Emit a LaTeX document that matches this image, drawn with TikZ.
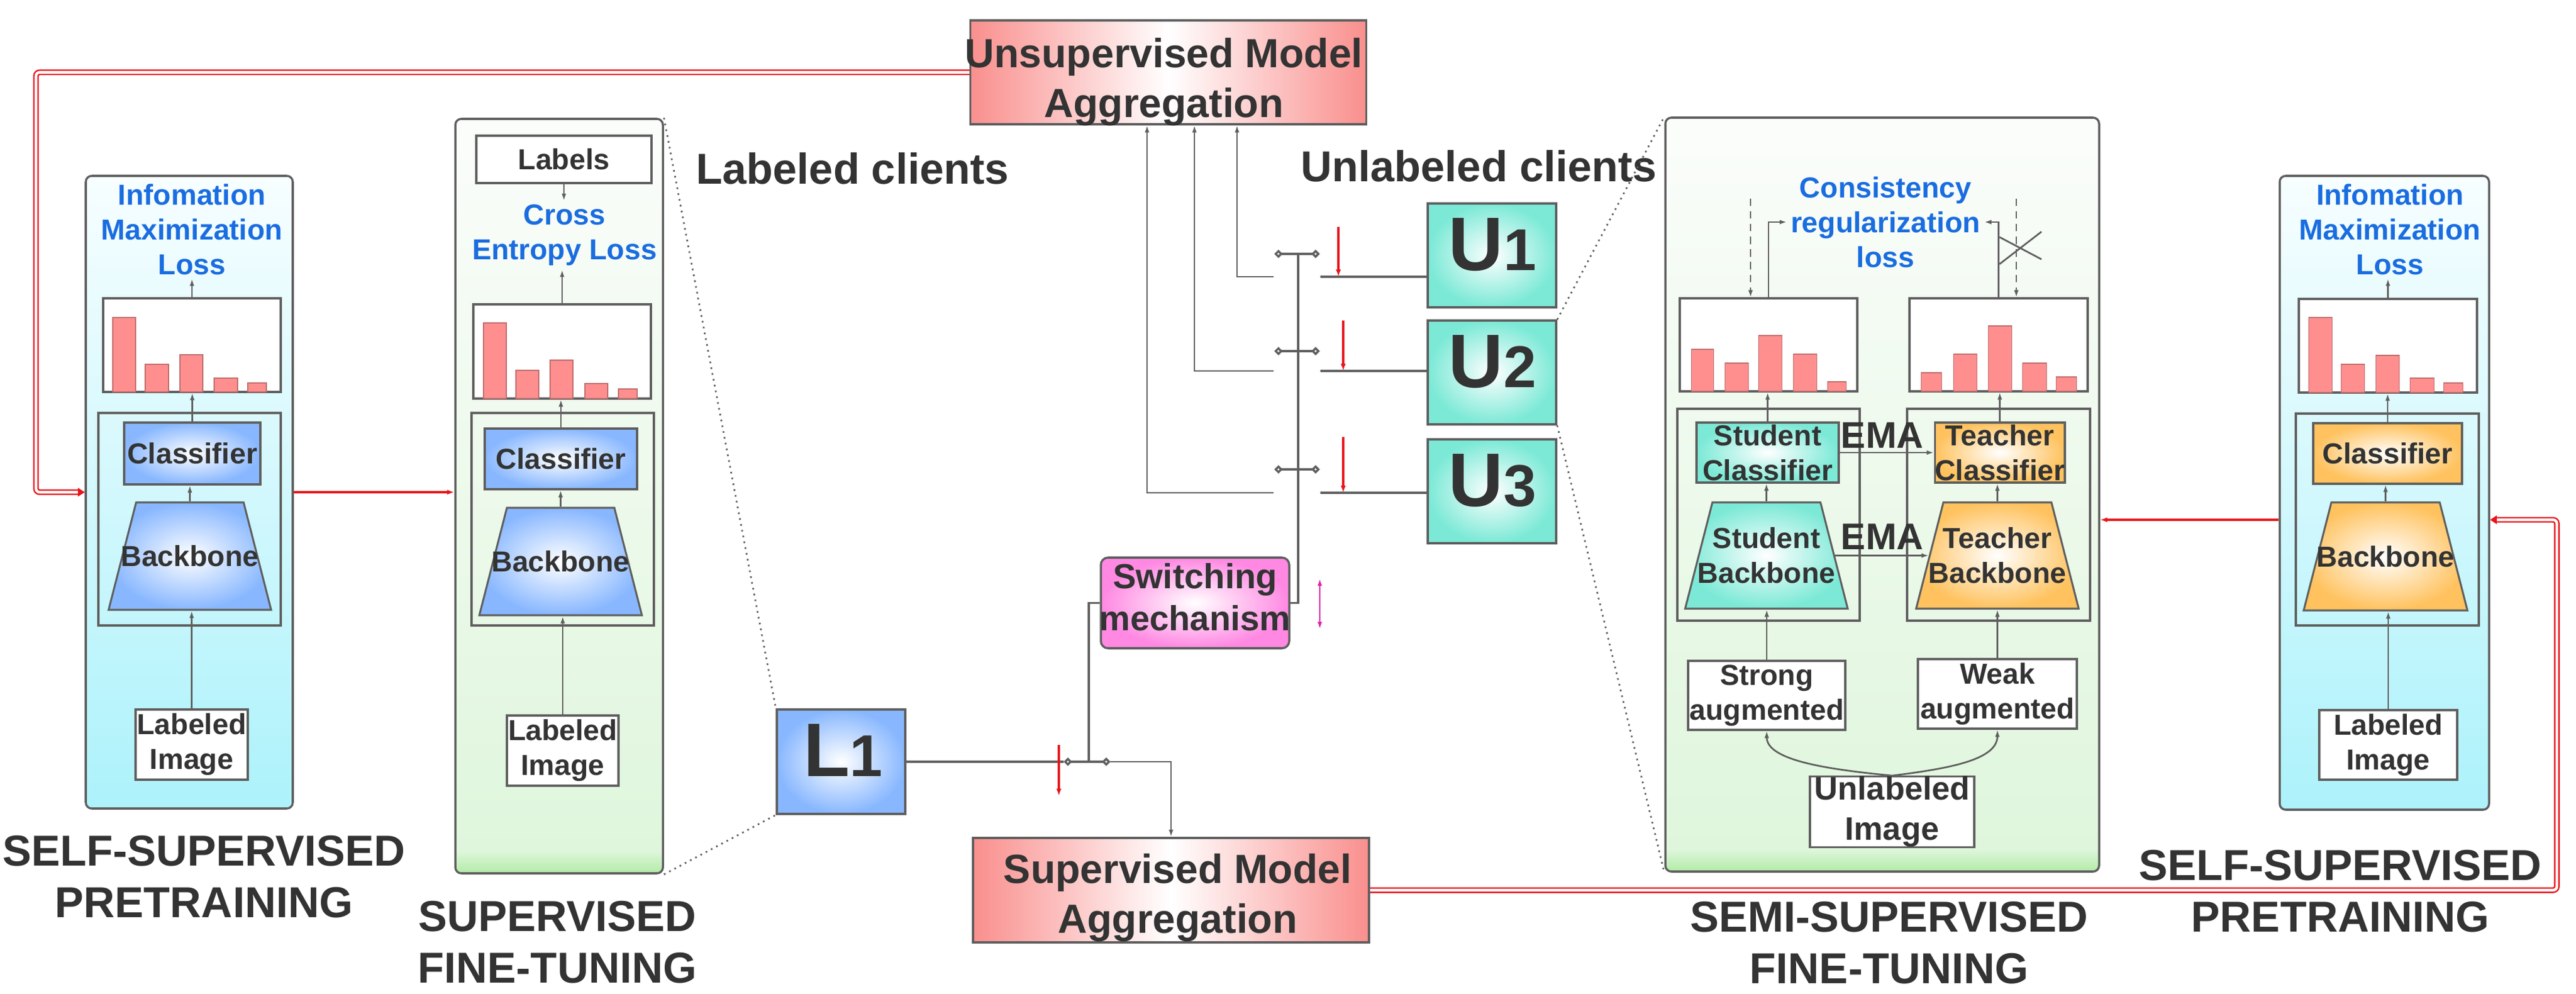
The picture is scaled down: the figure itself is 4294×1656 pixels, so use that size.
\documentclass[tikz,border=0pt]{standalone}
\usepackage{fontspec}
\setmainfont{Liberation Sans}
\usetikzlibrary{shapes.geometric,arrows.meta,positioning}

\definecolor{linegray}{HTML}{5F5F5F}
\definecolor{textgray}{HTML}{333333}
\definecolor{lossblue}{HTML}{1A6DE0}
\definecolor{barred}{HTML}{FF8F8F}
\definecolor{aggred}{HTML}{F98F8D}
\definecolor{netblue}{HTML}{88B7FF}
\definecolor{netorange}{HTML}{FFC25E}
\definecolor{netteal}{HTML}{7BE9D6}
\definecolor{switchpink}{HTML}{FF88E2}
\definecolor{sslwhite}{HTML}{F7FEFF}
\definecolor{sslcyan}{HTML}{ADF2FB}
\definecolor{ftwhite}{HTML}{FBFDFB}
\definecolor{ftgreen}{HTML}{DFF6DC}
\definecolor{stripgreen}{HTML}{B2EBA6}
\definecolor{linkred}{HTML}{E8141B}
\definecolor{switcharrow}{HTML}{DD22AA}

\pgfdeclareverticalshading{ftshade}{100bp}{color(0bp)=(stripgreen); color(25bp)=(stripgreen); color(26.5bp)=(ftgreen); color(75bp)=(ftwhite); color(100bp)=(ftwhite)}

\begin{document}
\begin{tikzpicture}[x=0.1mm,y=-0.1mm]
	\tikzstyle{every node}+=[inner sep=0pt, text=textgray, font=\bfseries]
	\tikzstyle{nettext}=[font=\fontsize{13.7}{16.5}\selectfont\bfseries, align=center]
	\tikzstyle{losstext}=[nettext, text=lossblue, inner sep=0.6mm]
	\tikzstyle{titletext}=[font=\fontsize{20.5}{24.5}\selectfont\bfseries, align=center]
	\tikzstyle{aggtext}=[font=\fontsize{19.3}{23.6}\selectfont\bfseries, align=center]
	\tikzstyle{switchtext}=[font=\fontsize{16.5}{20}\selectfont\bfseries, align=center]
	\tikzstyle{imgtext}=[font=\fontsize{15.4}{19}\selectfont\bfseries, align=center]
	\tikzstyle{ematext}=[font=\fontsize{17.6}{20}\selectfont\bfseries]
	\tikzstyle{clienttext}=[font=\fontsize{36}{40}\selectfont\bfseries]
	\tikzstyle{netbox}=[rectangle, draw=linegray, line width=0.9pt, nettext]
	\tikzstyle{trap}=[trapezium, trapezium angle=75.6, trapezium stretches body, inner xsep=0pt, inner ysep=8.95mm, draw=linegray, line width=0.9pt]
	\tikzstyle{hist}=[rectangle, draw=linegray, line width=0.9pt, fill=white]
	\tikzstyle{bar}=[fill=barred, draw=barred!75!black, line width=0.3pt]
	\tikzstyle{modelbox}=[rectangle, draw=linegray, line width=0.9pt, minimum width=30.4mm, minimum height=35.4mm]
	\tikzstyle{sslpanel}=[rectangle, rounded corners=1mm, draw=linegray, line width=1pt, top color=sslwhite, bottom color=sslcyan]
	\tikzstyle{ftpanel}=[rectangle, rounded corners=1mm, draw=linegray, line width=1pt, shading=ftshade]
	\tikzstyle{blueshade}=[inner color=white, outer color=netblue]
	\tikzstyle{orangeshade}=[inner color=white, outer color=netorange]
	\tikzstyle{tealshade}=[inner color=white, outer color=netteal]
	\tikzstyle{aggbox}=[rectangle, draw=linegray, line width=1pt, left color=aggred, right color=aggred, middle color=white, minimum width=66mm, minimum height=17.3mm]
	\tikzstyle{clientbox}=[rectangle, draw=linegray, line width=1pt, minimum width=21.4mm, minimum height=17.3mm]
	\tikzstyle{arr}=[draw=linegray, line width=0.8pt, -{Latex[length=3.4pt,width=2.2pt]}]
	\tikzstyle{dasharrow}=[arr, dash pattern=on 3.5pt off 2.5pt]
	\tikzstyle{wire}=[draw=linegray, line width=1pt]
	\tikzstyle{lever}=[wire, {Diamond[open,length=4pt,width=4pt]}-{Diamond[open,length=4pt,width=4pt]}]
	\tikzstyle{redarrow}=[draw=linkred, line width=1.1pt, -{Latex[length=3.4pt,width=2.4pt]}]
	\tikzstyle{redlink}=[draw=linkred, line width=0.7pt, double=white, double distance=1.3pt, rounded corners=0.6mm, -{Triangle[length=3.2pt,width=4pt]}]
	\tikzstyle{dotline}=[draw=linegray, line width=0.8pt, dotted]

	\fill[white] (0,0) rectangle (4294,1656);
	\useasboundingbox (0,0) rectangle (4294,1656);

	% self-supervised pretraining (left)
	\node[sslpanel, minimum width=34.5mm, minimum height=105.4mm] (sslL) at (315.5,820) {};
	\node[losstext] (lossL) at (320,382) {Infomation\\Maximization\\Loss};
	\node[hist, minimum width=29.6mm, minimum height=15.6mm] (histL) at (320,575) {};
	\foreach \a/\b/\t in {188/226/529, 242/281/607, 300/338/591, 357/396/630, 413/444/638}
		\draw[bar] (\a,\t) rectangle (\b,653);
	\node[modelbox] (mL) at (316,865) {};
	\node[netbox, blueshade, minimum width=22.7mm, minimum height=10.3mm] (clsL) at (320.5,755.5) {Classifier};
	\node[trap, blueshade, minimum width=27.1mm] (bbL) at (316.5,926.5) {};
	\node[nettext] at (bbL) {Backbone};
	\node[netbox, fill=white, minimum width=18.7mm, minimum height=11.7mm] (liL) at (319.5,1240.5) {Labeled\\Image};
	\draw[arr] (liL.north) -- (liL.north |- bbL.south);
	\draw[arr] (bbL.north) -- (bbL.north |- clsL.south);
	\draw[arr] (clsL.north) -- (clsL.north |- histL.south);
	\draw[arr] (histL.north) -- (lossL.south);
	\node[titletext] at (340,1460.5) {SELF-SUPERVISED\\PRETRAINING};

	% supervised fine-tuning
	\node[ftpanel, minimum width=34.6mm, minimum height=125.7mm] (supFT) at (932,826.5) {};
	\node[netbox, fill=white, minimum width=29.2mm, minimum height=7.9mm] (labels) at (940,265.5) {Labels};
	\node[losstext] (lossS) at (941,392) {Cross\\Entropy Loss};
	\node[hist, minimum width=29.6mm, minimum height=15.7mm] (histS) at (937,585.5) {};
	\foreach \a/\b/\t in {806/844/538, 860/898/617, 917/955/600, 975/1013/639, 1031/1062/648}
		\draw[bar] (\a,\t) rectangle (\b,664);
	\node[modelbox] (mS) at (938,865) {};
	\node[netbox, blueshade, minimum width=25.4mm, minimum height=10.1mm] (clsS) at (935,764.5) {Classifier};
	\node[trap, blueshade, minimum width=27.1mm] (bbS) at (934.5,935.5) {};
	\node[nettext] at (bbS) {Backbone};
	\node[netbox, fill=white, minimum width=18.6mm, minimum height=11.7mm] (liS) at (938,1250.5) {Labeled\\Image};
	\draw[arr] (liS.north) -- (liS.north |- bbS.south);
	\draw[arr] (bbS.north) -- (bbS.north |- clsS.south);
	\draw[arr] (clsS.north) -- (clsS.north |- histS.south);
	\draw[arr] (histS.north) -- (histS.north |- lossS.south);
	\draw[arr] (labels.south) -- (labels.south |- lossS.north);
	\node[titletext] at (929,1570) {SUPERVISED\\FINE-TUNING};

	% clients and aggregation
	\node[titletext] at (1421,281) {Labeled clients};
	\node[titletext] at (2465,277) {Unlabeled clients};
	\node[aggbox] (unsup) at (1947.5,120.5) {};
	\node[aggtext] at (1940,137) {Unsupervised Model\\Aggregation};
	\node[aggbox, minimum height=17.4mm] (sup) at (1952,1483) {};
	\node[aggtext] at (1963,1496) {Supervised Model\\Aggregation};
	\node[clientbox, tealshade] (U1) at (2487,425.5) {};
	\node[clienttext] at (2488,407.5) {U{\fontsize{28}{30}\selectfont 1}};
	\node[clientbox, tealshade] (U2) at (2487,620.5) {};
	\node[clienttext] at (2488,602.5) {U{\fontsize{28}{30}\selectfont 2}};
	\node[clientbox, tealshade] (U3) at (2487,818.5) {};
	\node[clienttext] at (2488,800.5) {U{\fontsize{28}{30}\selectfont 3}};
	\node[clientbox, blueshade, minimum height=17.4mm] (L1) at (1402,1269) {};
	\node[clienttext] at (1405,1249.5) {L{\fontsize{28}{30}\selectfont 1}};
	\node[rectangle, rounded corners=1.2mm, draw=linegray, line width=1pt, inner color=white, outer color=switchpink, minimum width=31.4mm, minimum height=15.1mm] (switch) at (1992,1004.5) {};
	\node[switchtext] at (1992,995) {Switching\\mechanism};

	% switches
	\coordinate (sw1) at (2201,461); \coordinate (sw1b) at (2123,461);
	\coordinate (sw2) at (2201,618); \coordinate (sw2b) at (2123,618);
	\coordinate (sw3) at (2201,821); \coordinate (sw3b) at (2123,821);
	\draw[wire] (U1.west |- sw1) -- (sw1);
	\draw[wire] (U2.west |- sw2) -- (sw2);
	\draw[wire] (U3.west |- sw3) -- (sw3);
	\draw[arr] (sw1b) -| ([xshift=11.45mm]unsup.south);
	\draw[arr] (sw2b) -| ([xshift=4.35mm]unsup.south);
	\draw[arr] (sw3b) -| ([xshift=-3.55mm]unsup.south);
	\draw[lever] (2124,423) -- (2200,423);
	\draw[lever] (2124,585) -- (2200,585);
	\draw[lever] (2124,782) -- (2200,782);
	\draw[wire] (2164,423) |- (switch.east);
	\coordinate (lsw) at (1815,1269);
	\draw[wire] (switch.west) -| (lsw);
	\draw[wire] (L1.east) -- (1773,1269);
	\draw[lever] (1773,1269) -- (1851,1269);
	\draw[arr] (1851,1269) -| (sup.north);
	\draw[redarrow] (2231,378) -- (2231,461);
	\draw[redarrow] (2239,534) -- (2239,618);
	\draw[redarrow] (2239,728) -- (2239,821);
	\draw[redarrow] (1765,1241) -- (1765,1326);
	\draw[draw=switcharrow, line width=0.8pt, {Latex[length=3.4pt,width=2.2pt]}-{Latex[length=3.4pt,width=2.2pt]}] (2200,964) -- (2200,1048);

	% semi-supervised fine-tuning
	\node[ftpanel, minimum width=72.3mm, minimum height=125.6mm] (semi) at (3137.5,824) {};
	\node[losstext] (lossst) at (3143,370) {Consistency\\regularization\\loss};
	\node[hist, minimum width=29.6mm, minimum height=15.5mm] (histst) at (2948,574.5) {};
	\foreach \a/\b/\t in {2819/2856/582, 2875/2914/605, 2931/2970/559, 2989/3028/590, 3046/3077/636}
		\draw[bar] (\a,\t) rectangle (\b,652);
	\node[hist, minimum width=29.7mm, minimum height=15.5mm] (histte) at (3331.5,574.5) {};
	\foreach \a/\b/\t in {3202/3236/621, 3256/3295/590, 3314/3353/543, 3371/3411/605, 3427/3461/628}
		\draw[bar] (\a,\t) rectangle (\b,652);
	\node[modelbox, minimum height=35.3mm] (mst) at (2948,857.5) {};
	\node[modelbox, minimum width=30.5mm, minimum height=35.3mm] (mte) at (3331.5,857.5) {};
	\node[netbox, tealshade, minimum width=23.7mm, minimum height=10mm] (clsst) at (2946.5,754) {Student\\Classifier};
	\node[netbox, orangeshade, minimum width=21.1mm, minimum height=10mm] (clste) at (3333.5,754) {Teacher\\Classifier};
	\node[trap, tealshade, inner ysep=8.85mm, minimum width=27.1mm] (bbst) at (2944.5,925.5) {};
	\node[nettext] at (bbst) {Student\\Backbone};
	\node[trap, orangeshade, inner ysep=8.85mm, minimum width=27.1mm] (bbte) at (3329.5,925.5) {};
	\node[nettext] at (bbte) {Teacher\\Backbone};
	\node[ematext] at (3137.5,725.5) {EMA};
	\node[ematext] at (3137.5,894) {EMA};
	\draw[arr] (clsst.east) -- (clste.west);
	\draw[arr] (bbst.east) -- (bbte.west);
	\node[netbox, fill=white, minimum width=26.2mm, minimum height=11.5mm] (strong) at (2945,1158.5) {Strong\\augmented};
	\node[netbox, fill=white, minimum width=26.5mm, minimum height=11.6mm] (weak) at (3329.5,1156) {Weak\\augmented};
	\node[netbox, imgtext, fill=white, minimum width=27.4mm, minimum height=11.7mm] (unlab) at (3154,1352.5) {Unlabeled\\Image};
	\draw[arr] (unlab.north) .. controls +(-103,-10) and +(0,50) .. (strong.south);
	\draw[arr] (unlab.north) .. controls +(97,-12) and +(0,50) .. (weak.south);
	\draw[arr] (strong.north) -- (strong.north |- bbst.south);
	\draw[arr] (weak.north) -- (weak.north |- bbte.south);
	\draw[arr] (bbst.north) -- (bbst.north |- clsst.south);
	\draw[arr] (bbte.north) -- (bbte.north |- clste.south);
	\draw[arr] (clsst.north) -- (clsst.north |- histst.south);
	\draw[arr] (clste.north) -- (clste.north |- histte.south);
	\draw[arr] (histst.north) |- (lossst.west);
	\draw[arr] (histte.north) |- (lossst.east);
	\coordinate (dashS) at (2918,331);
	\coordinate (dashT) at (3361,331);
	\draw[dasharrow] (dashS) -- (dashS |- histst.north);
	\draw[dasharrow] (dashT) -- (dashT |- histte.north);
	\draw[wire, line width=0.8pt] (3333,395) -- (3403,432);
	\draw[wire, line width=0.8pt] (3333,440) -- (3403,386);
	\node[titletext] at (3149,1571) {SEMI-SUPERVISED\\FINE-TUNING};

	% self-supervised pretraining (right)
	\node[sslpanel, minimum width=34.9mm, minimum height=105.6mm] (sslR) at (3974.5,821) {};
	\node[losstext] (lossR) at (3984,382) {Infomation\\Maximization\\Loss};
	\node[hist, minimum width=29.7mm, minimum height=15.6mm] (histR) at (3980.5,576) {};
	\foreach \a/\b/\t in {3848/3887/529, 3902/3941/607, 3960/3999/592, 4017/4057/630, 4073/4105/638}
		\draw[bar] (\a,\t) rectangle (\b,654);
	\node[modelbox, minimum width=30.5mm, minimum height=35.3mm] (mR) at (3979.5,865.5) {};
	\node[netbox, orangeshade, minimum width=24.8mm, minimum height=10.1mm] (clsR) at (3980,755.5) {Classifier};
	\node[trap, orangeshade, inner ysep=9mm, minimum width=27.3mm] (bbR) at (3976.5,927) {};
	\node[nettext] at (bbR) {Backbone};
	\node[netbox, fill=white, minimum width=23mm, minimum height=11.6mm] (liR) at (3981,1241) {Labeled\\Image};
	\draw[arr] (liR.north) -- (liR.north |- bbR.south);
	\draw[arr] (bbR.north) -- (bbR.north |- clsR.south);
	\draw[arr] (clsR.north) -- (clsR.north |- histR.south);
	\draw[arr] (histR.north) -- (histR.north |- lossR.south);
	\node[titletext] at (3901,1484.5) {SELF-SUPERVISED\\PRETRAINING};

	% zoom lines
	\draw[dotline] (supFT.north east) -- (L1.north west);
	\draw[dotline] (supFT.south east) -- (L1.south west);
	\draw[dotline] (U2.north east) -- (semi.north west);
	\draw[dotline] (U2.south east) -- (semi.south west);

	% red links
	\coordinate (loopL) at (60,820);
	\coordinate (loopR) at (4262,866);
	\draw[redlink] (unsup.west) -| (loopL) -- (sslL.west);
	\draw[redlink] (sup.east) -| (loopR) -- (loopR -| sslR.east);
	\draw[redarrow, line width=0.9pt] (sslL.east) -- (sslL.east -| supFT.west);
	\draw[redarrow, line width=0.9pt] (loopR -| sslR.west) -- (loopR -| semi.east);
\end{tikzpicture}
\end{document}
